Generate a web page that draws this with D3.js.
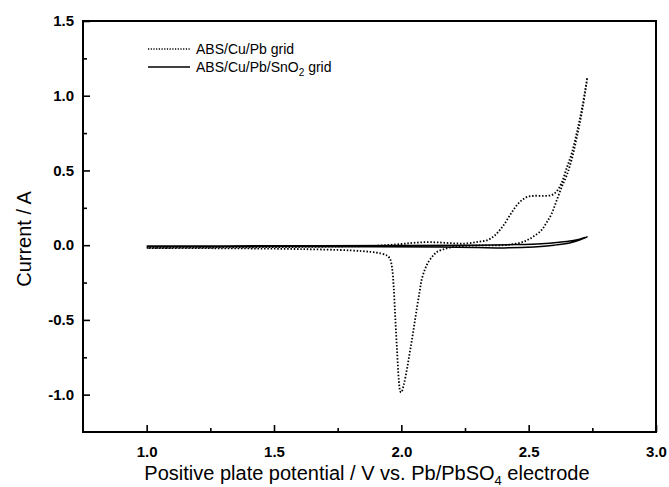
<!DOCTYPE html>
<meta charset="utf-8">
<script src="https://d3js.org/d3.v7.min.js"></script>
<style>
  body { margin: 0; background: #fff; }
  text { font-family: "Liberation Sans", Arial, sans-serif; fill: #000; }
</style>
<div id="chart"></div>
<script>
  // ABS/Cu/Pb grid (dotted) - anodic sweep then cathodic sweep
  const pbVolt = [1.00, 1.20, 1.40, 1.60, 1.80, 1.90, 2.00, 2.05, 2.10, 2.15, 2.20, 2.25, 2.30, 2.34, 2.37, 2.40,
    2.43, 2.46, 2.49, 2.52, 2.56, 2.59, 2.61, 2.63, 2.65, 2.67, 2.69, 2.71, 2.73,
    2.71, 2.69, 2.67, 2.65, 2.63, 2.61, 2.59, 2.57, 2.55, 2.52, 2.49, 2.45, 2.40, 2.30, 2.24, 2.206, 2.17, 2.14,
    2.125, 2.107, 2.093, 2.08, 2.072, 2.062, 2.052, 2.042, 2.032, 2.022, 2.01, 2.00, 1.996, 1.99, 1.983, 1.976,
    1.97, 1.963, 1.955, 1.944, 1.92, 1.88, 1.80, 1.60, 1.40, 1.20, 1.00];
  const pbCurr = [-0.018, -0.016, -0.014, -0.012, -0.008, -0.004, 0.008, 0.016, 0.020, 0.018, 0.013, 0.011, 0.022, 0.035, 0.07, 0.13,
    0.21, 0.28, 0.32, 0.33, 0.33, 0.335, 0.36, 0.42, 0.52, 0.62, 0.76, 0.92, 1.12,
    0.90, 0.73, 0.58, 0.47, 0.39, 0.30, 0.21, 0.15, 0.10, 0.06, 0.03, 0.01, 0.0, -0.002, -0.006, -0.011, -0.025, -0.045,
    -0.07, -0.11, -0.16, -0.23, -0.31, -0.41, -0.52, -0.63, -0.73, -0.83, -0.93, -0.985, -0.98, -0.90, -0.70, -0.48,
    -0.28, -0.144, -0.09, -0.07, -0.055, -0.045, -0.035, -0.026, -0.022, -0.02, -0.02];

  // ABS/Cu/Pb/SnO2 grid (solid)
  const snVolt = [1.00, 1.50, 2.00, 2.30, 2.45, 2.55, 2.62, 2.67, 2.70, 2.73,
    2.70, 2.66, 2.60, 2.52, 2.42, 2.30, 2.15, 1.90, 1.50, 1.00];
  const snCurr = [-0.006, -0.004, -0.002, 0.0, 0.004, 0.010, 0.020, 0.030, 0.040, 0.056,
    0.035, 0.015, 0.0, -0.012, -0.018, -0.016, -0.012, -0.010, -0.009, -0.009];

  const xMajor = [1.0, 1.5, 2.0, 2.5, 3.0];
  const xMinor = [1.25, 1.75, 2.25, 2.75];
  const yMajor = [-1.0, -0.5, 0.0, 0.5, 1.0, 1.5];
  const yMinor = [-0.75, -0.25, 0.25, 0.75, 1.25];
  const seriesNames = ["ABS/Cu/Pb grid", "ABS/Cu/Pb/SnO2 grid"];

  const W = 669, H = 487;
  const margin = {top: 21, right: 13, bottom: 55, left: 83};
  const width = W - margin.left - margin.right,
        height = H - margin.top - margin.bottom;

  const root = d3.select("#chart").append("svg")
      .attr("width", W).attr("height", H);
  const svg = root.append("g")
      .attr("transform", `translate(${margin.left},${margin.top})`);

  const x = d3.scaleLinear().domain([0.75, 3.0]).range([0, width]);
  const y = d3.scaleLinear().domain([-1.25, 1.5]).range([height, 0]);
  const fmt = d => d.toFixed(1);   // plain hyphen for negatives, like the original

  // frame
  svg.append("rect")
    .attr("width", width).attr("height", height)
    .attr("fill", "none").attr("stroke", "#000").attr("stroke-width", 2);

  // X axis, ticks pointing inward
  const gx = svg.append("g").attr("transform", `translate(0,${height})`);
  gx.call(d3.axisBottom(x).tickValues(xMajor).tickSize(-7).tickPadding(14).tickFormat(fmt));
  gx.append("g").call(d3.axisBottom(x).tickValues(xMinor).tickSize(-4).tickFormat(""));
  gx.selectAll(".domain").remove();
  gx.selectAll("line").attr("stroke-width", 1.6);
  gx.selectAll("text").attr("font-size", 15).attr("font-weight", "bold");

  // Y axis
  const gy = svg.append("g");
  gy.call(d3.axisLeft(y).tickValues(yMajor).tickSize(-7).tickPadding(9).tickFormat(fmt));
  gy.append("g").call(d3.axisLeft(y).tickValues(yMinor).tickSize(-4).tickFormat(""));
  gy.selectAll(".domain").remove();
  gy.selectAll("line").attr("stroke-width", 1.6);
  gy.selectAll("text").attr("font-size", 15).attr("font-weight", "bold");

  // curves
  const line = d3.line().curve(d3.curveCatmullRom.alpha(0.5))
    .x(d => x(d[0])).y(d => y(d[1]));

  svg.append("path")
    .datum(snVolt.map((v, i) => [v, snCurr[i]]))
    .attr("fill", "none").attr("stroke", "#000").attr("stroke-width", 1.5)
    .attr("d", line);

  svg.append("path")
    .datum(pbVolt.map((v, i) => [v, pbCurr[i]]))
    .attr("fill", "none").attr("stroke", "#000").attr("stroke-width", 1.8)
    .attr("stroke-dasharray", "1.5,1.8")
    .attr("d", line);

  // legend
  const legend = svg.append("g").attr("transform", "translate(65,28)");
  seriesNames.forEach((name, i) => {
    const g = legend.append("g").attr("transform", `translate(0,${i * 18})`);
    g.append("line").attr("x1", 0).attr("x2", 42).attr("y1", 0).attr("y2", 0)
      .attr("stroke", "#000").attr("stroke-width", i === 0 ? 1.4 : 1.5)
      .attr("stroke-dasharray", i === 0 ? "1.2,1.5" : null);
    const t = g.append("text").attr("x", 48).attr("y", 5).attr("font-size", 14);
    if (name.includes("SnO2")) {
      t.append("tspan").text("ABS/Cu/Pb/SnO");
      t.append("tspan").text("2").attr("font-size", 10).attr("dy", 4);
      t.append("tspan").text(" grid").attr("dy", -4);
    } else {
      t.text(name);
    }
  });

  // axis titles
  const xt = root.append("text")
    .attr("x", 367).attr("y", 480)
    .attr("text-anchor", "middle").attr("font-size", 20);
  xt.append("tspan").text("Positive plate potential / V vs. Pb/PbSO");
  xt.append("tspan").text("4").attr("font-size", 13).attr("dy", 5);
  xt.append("tspan").text(" electrode").attr("dy", -5);

  root.append("text")
    .attr("transform", "translate(31,239) rotate(-90)")
    .attr("text-anchor", "middle").attr("font-size", 20)
    .text("Current / A");
</script>
